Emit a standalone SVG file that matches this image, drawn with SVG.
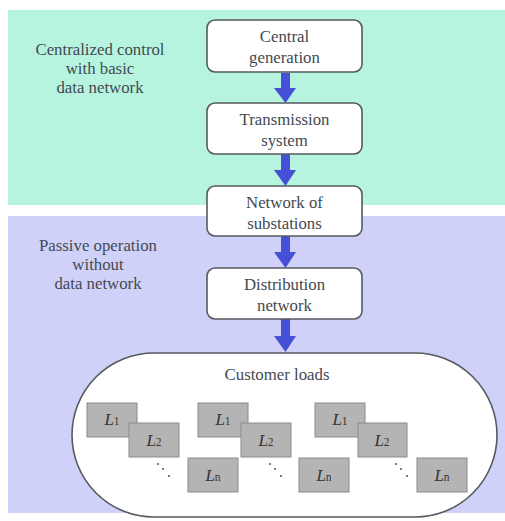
<svg xmlns="http://www.w3.org/2000/svg" width="505" height="521" viewBox="0 0 505 521">
<style>
.t{font-family:'Liberation Serif','DejaVu Serif','Times New Roman',serif;font-size:16.8px;fill:#434a50;text-anchor:middle}
.box{fill:#ffffff;stroke:#555a5e;stroke-width:1.6}
.load{fill:#b4b4b4;stroke:#8a8a8a;stroke-width:1}
.L{font-family:'Liberation Serif','DejaVu Serif','Times New Roman',serif;font-style:italic;font-size:17px;fill:#333;text-anchor:middle}
.sub{font-style:normal;font-size:11.5px}
.arr{fill:#4650d6}
.dot{fill:#555}
</style>
<rect id="bg-top" x="8" y="10" width="497" height="195" fill="#b6f4e0"/>
<rect id="bg-bottom" x="8" y="216" width="497" height="297" fill="#cfd1f9"/>
<g id="label-central">
<text class="t" x="100" y="55">Centralized control</text>
<text class="t" x="100" y="74">with basic</text>
<text class="t" x="100" y="93">data network</text>
</g>
<g id="label-passive">
<text class="t" x="98" y="251">Passive operation</text>
<text class="t" x="98" y="270">without</text>
<text class="t" x="98" y="289">data network</text>
</g>
<g id="connectors">
<path class="arr" d="M281 73 H290 V88 H296 L285.5 103 L274 88 H281 Z"/>
<path class="arr" d="M281 154 H290 V170 H296 L285.5 186 L274 170 H281 Z"/>
<path class="arr" d="M281 236 H290 V252 H296 L285.5 268 L274 252 H281 Z"/>
<path class="arr" d="M281 319 H290 V336 H296 L285.5 352 L274 336 H281 Z"/>
</g>
<g id="central-generation">
<rect class="box" x="207" y="20" width="155" height="52" rx="8"/>
<text class="t" x="284.5" y="42">Central</text>
<text class="t" x="284.5" y="63">generation</text>
</g>
<g id="transmission-system">
<rect class="box" x="207" y="103" width="155" height="51" rx="8"/>
<text class="t" x="284.5" y="125">Transmission</text>
<text class="t" x="284.5" y="146">system</text>
</g>
<g id="network-of-substations">
<rect class="box" x="207" y="186" width="155" height="50" rx="8"/>
<text class="t" x="284.5" y="208">Network of</text>
<text class="t" x="284.5" y="229">substations</text>
</g>
<g id="distribution-network">
<rect class="box" x="207" y="268" width="155" height="51" rx="8"/>
<text class="t" x="284.5" y="290">Distribution</text>
<text class="t" x="284.5" y="311">network</text>
</g>
<g id="customer-loads">
<rect class="box" x="72" y="353" width="425" height="164" rx="82" ry="82"/>
<text class="t" x="277" y="380">Customer loads</text>
<g id="group1">
<rect class="load" x="87" y="403" width="50" height="34"/>
<text class="L" x="112" y="425">L<tspan class="sub">1</tspan></text>
<rect class="load" x="129" y="423" width="50" height="34"/>
<text class="L" x="154" y="446">L<tspan class="sub">2</tspan></text>
<rect class="load" x="188" y="458" width="50" height="34"/>
<text class="L" x="213" y="481">L<tspan class="sub">n</tspan></text>
<circle class="dot" cx="158" cy="464" r="1"/><circle class="dot" cx="163" cy="469" r="1"/><circle class="dot" cx="169" cy="476" r="1"/>
</g>
<g id="group2">
<rect class="load" x="198" y="403" width="50" height="34"/>
<text class="L" x="223" y="425">L<tspan class="sub">1</tspan></text>
<rect class="load" x="241" y="423" width="50" height="34"/>
<text class="L" x="266" y="446">L<tspan class="sub">2</tspan></text>
<rect class="load" x="299" y="458" width="50" height="34"/>
<text class="L" x="324" y="481">L<tspan class="sub">n</tspan></text>
<circle class="dot" cx="270" cy="464" r="1"/><circle class="dot" cx="275" cy="469" r="1"/><circle class="dot" cx="281" cy="476" r="1"/>
</g>
<g id="group3">
<rect class="load" x="315" y="403" width="50" height="34"/>
<text class="L" x="340" y="425">L<tspan class="sub">1</tspan></text>
<rect class="load" x="358" y="423" width="49" height="34"/>
<text class="L" x="382" y="446">L<tspan class="sub">2</tspan></text>
<rect class="load" x="417" y="458" width="50" height="34"/>
<text class="L" x="442" y="481">L<tspan class="sub">n</tspan></text>
<circle class="dot" cx="396" cy="464" r="1"/><circle class="dot" cx="401" cy="469" r="1"/><circle class="dot" cx="407" cy="476" r="1"/>
</g>
</g>
</svg>
